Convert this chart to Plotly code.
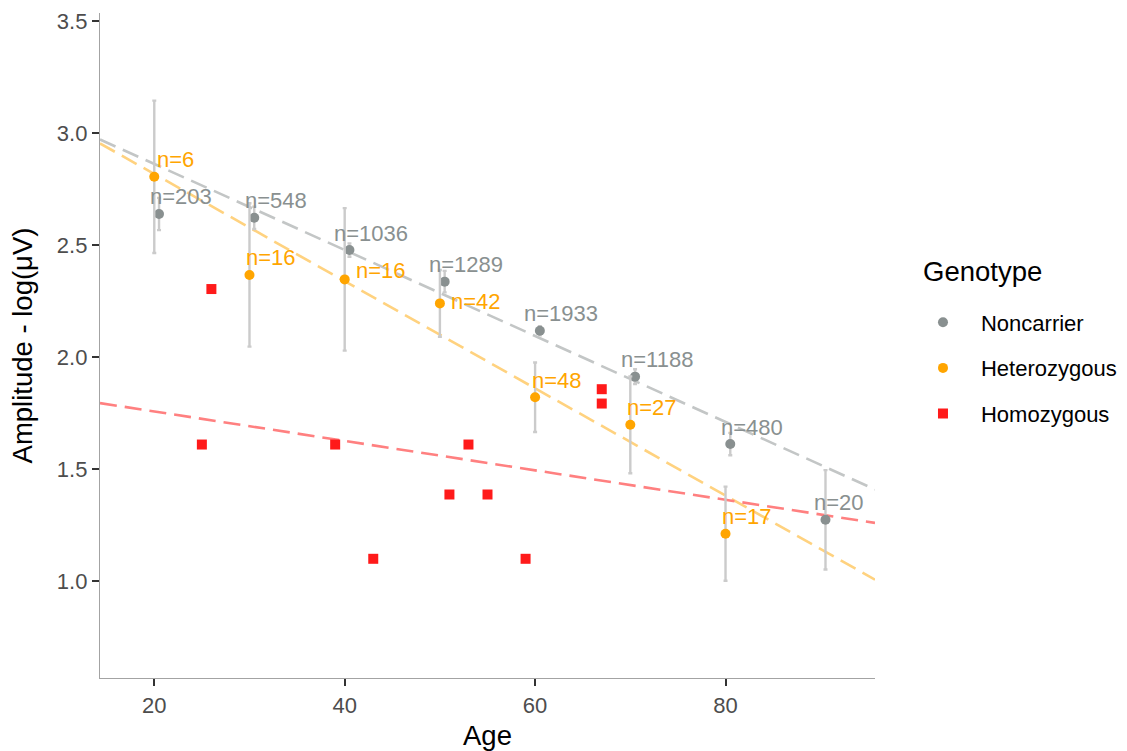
import plotly.graph_objects as go

# Mean amplitude per age bin, by genotype
age_bins = [20, 30, 40, 50, 60, 70, 80, 90]

noncarrier_amp = [2.638, 2.621, 2.477, 2.336, 2.117, 1.912, 1.611, 1.273]
noncarrier_se = [0.072, 0.050, 0.030, 0.048, 0.020, 0.033, 0.050, 0.222]
noncarrier_n = [203, 548, 1036, 1289, 1933, 1188, 480, 20]

hetero_bins = [20, 30, 40, 50, 60, 70, 80]
hetero_amp = [2.804, 2.366, 2.346, 2.239, 1.820, 1.697, 1.211]
hetero_se = [0.340, 0.320, 0.318, 0.149, 0.155, 0.216, 0.210]
hetero_n = [6, 16, 16, 42, 48, 27, 17]

# Individual homozygous carriers
homo_age = [25, 26, 39, 43, 51, 53, 55, 59, 67, 67]
homo_amp = [1.609, 2.303, 1.609, 1.099, 1.386, 1.609, 1.386, 1.099, 1.792, 1.856]

# Linear fits (intercept, slope) per genotype
fit_noncarrier = (3.245, -0.01919)
fit_hetero = (3.295, -0.02392)
fit_homo = (1.888, -0.00657)

X_RANGE = [14.3, 95.7]
Y_RANGE = [0.567, 3.535]

GREY = "#899090"
ORANGE = "#FFA500"
RED = "#FF1A1A"
FONT = "Liberation Sans"

fig = go.Figure()


def add_fit(coef, color):
    b0, b1 = coef
    xs = X_RANGE
    ys = [b0 + b1 * x for x in xs]
    fig.add_trace(go.Scatter(
        x=xs, y=ys, mode="lines", showlegend=False, hoverinfo="skip",
        line=dict(color=color, width=2.6, dash="17px,8px"),
    ))


add_fit(fit_noncarrier, "#c3c6c6")
add_fit(fit_hetero, "#FFD27F")
add_fit(fit_homo, "#FF8080")

# Noncarrier points are dodged slightly to the right
dodge = 0.5
nc_x = [a + dodge for a in age_bins]

errbar = dict(type="data", visible=True, color="#cbcbcb", thickness=2.4, width=2)

fig.add_trace(go.Scatter(
    x=nc_x, y=noncarrier_amp, mode="markers", name="Noncarrier",
    marker=dict(color=GREY, size=10, symbol="circle"),
    error_y=dict(array=noncarrier_se, **errbar),
    legendgroup="nc",
))
fig.add_trace(go.Scatter(
    x=hetero_bins, y=hetero_amp, mode="markers", name="Heterozygous",
    marker=dict(color=ORANGE, size=10, symbol="circle"),
    error_y=dict(array=hetero_se, **errbar),
    legendgroup="het",
))
fig.add_trace(go.Scatter(
    x=homo_age, y=homo_amp, mode="markers", name="Homozygous",
    marker=dict(color=RED, size=10, symbol="square"),
    legendgroup="hom",
))

# Count labels above-right of each mean
default_shift = (21.5, 17)
nc_shift = {90: (14, 17)}
het_shift = {40: (36, 9), 50: (36, 2)}

for a, x, y, n in zip(age_bins, nc_x, noncarrier_amp, noncarrier_n):
    dx, dy = nc_shift.get(a, default_shift)
    fig.add_annotation(x=x, y=y, text=f"n={n}", showarrow=False,
                       xshift=dx, yshift=dy,
                       font=dict(family=FONT, size=22, color=GREY))
for a, y, n in zip(hetero_bins, hetero_amp, hetero_n):
    dx, dy = het_shift.get(a, default_shift)
    fig.add_annotation(x=a, y=y, text=f"n={n}", showarrow=False,
                       xshift=dx, yshift=dy,
                       font=dict(family=FONT, size=22, color=ORANGE))

# Legend heading
fig.add_annotation(xref="paper", yref="paper", x=1.059, y=0.6107,
                   xanchor="left", yanchor="middle", showarrow=False,
                   text="Genotype", font=dict(family=FONT, size=27.5, color="black"))

axis_common = dict(
    showgrid=False, zeroline=False, showline=True, linecolor="#a3a3a3",
    linewidth=1.3, ticks="outside", ticklen=7, tickwidth=2, tickcolor="#333333",
    tickfont=dict(family=FONT, size=22, color="#4d4d4d"), automargin=False,
)

fig.update_xaxes(
    range=X_RANGE, tickvals=[20, 40, 60, 80],
    title=dict(text="Age", font=dict(family=FONT, size=27.5, color="black"), standoff=12),
    **axis_common,
)
fig.update_yaxes(
    range=Y_RANGE, tickvals=[1.0, 1.5, 2.0, 2.5, 3.0, 3.5], tickformat=".1f",
    title=dict(text="Amplitude - log(\u03bcV)", font=dict(family=FONT, size=27.5, color="black"),
               standoff=16),
    **axis_common,
)

fig.update_layout(
    width=1127, height=751,
    margin=dict(l=100, r=252, t=13, b=73),
    plot_bgcolor="white", paper_bgcolor="white",
    font=dict(family=FONT),
    legend=dict(
        font=dict(family=FONT, size=22, color="black"),
        xref="container", yref="container",
        x=0.803, y=0.51, xanchor="left", yanchor="middle",
        tracegroupgap=14, itemwidth=66,
        bgcolor="rgba(0,0,0,0)",
    ),
)

fig.write_html("out.html")
